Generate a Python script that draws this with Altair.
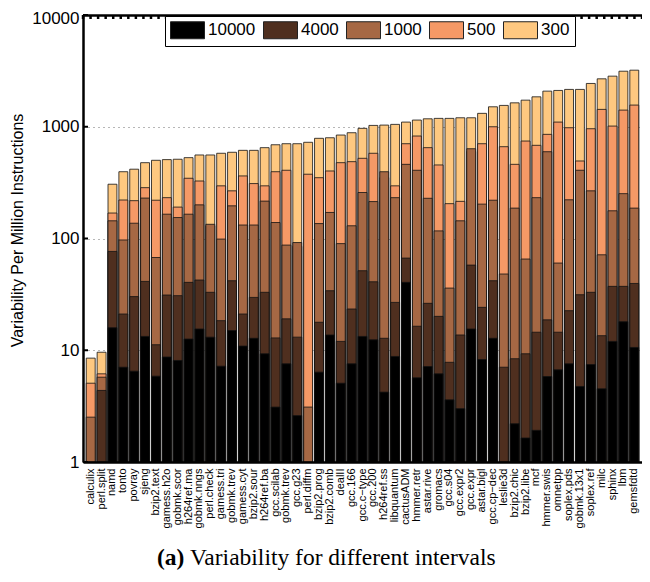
import json
import altair as alt
import pandas as pd

names = ["calculix", "perl.split", "namd", "tonto", "povray", "sjeng", "bzip2.text",
         "gamess.h2o", "gobmk.scor", "h264ref.ma", "gobmk.nngs", "perl.check",
         "gamess.tri", "gobmk.trev", "gamess.cyt", "bzip2.sour", "h264ref.ba",
         "gcc.scilab", "gobmk.trev", "gcc.g23", "perl.diffm", "bzip2.prog",
         "bzip2.comb", "dealII", "gcc.166", "gcc.c\u2212type", "gcc.200", "h264ref.ss",
         "libquantum", "cactusADM", "hmmer.retr", "astar.rive", "gromacs", "gcc.s04",
         "gcc.expr2", "gcc.expr", "astar.bigl", "gcc.cp\u2212dec", "leslie3d",
         "bzip2.chic", "bzip2.libe", "mcf", "hmmer.swis", "omnetpp", "soplex.pds",
         "gobmk.13x1", "soplex.ref", "milc", "sphinx", "lbm", "gemsfdtd"]

v300 = [8.5, 9.6, 306, 396, 417, 477, 501, 508, 512, 529, 559, 559, 579, 591, 615, 615, 650,
        690, 705, 705, 726, 788, 797, 843, 884, 968, 1028, 1035, 1050, 1101, 1148, 1178,
        1188, 1188, 1203, 1203, 1318, 1509, 1552, 1637, 1730, 1853, 2083, 2113, 2158,
        2158, 2440, 2685, 2837, 3140, 3208]
v500 = [5.07, 6.15, 169, 221, 218, 285, 220, 232, 191, 346, 327, 130, 296, 267, 363, 310, 296,
        396, 408, 85, 376, 350, 402, 477, 487, 522, 579, 350, 296, 705, 826, 650,
        455, 205, 215, 600, 705, 1000, 663, 461, 745, 682, 855, 1101, 980,
        494, 960, 1430, 1014, 1409, 1563]
v1000 = [2.52, 5.74, 144, 97, 137, 230, 67.6, 165, 154, 165, 200, 134, 98.8, 196, 132, 132, 216,
         139, 87.3, 92, 3.1, 136, 171, 90, 130, 258, 214, 396, 232, 461, 408, 229,
         117, 36, 144, 636, 203, 220, 48.1, 187, 65.5, 232, 598, 60.3, 222,
         408, 267, 71.5, 177, 252, 187]
v4000 = [None, 4.37, 76.6, 21.1, 30.2, 41.3, 11.2, 31.2, 30.8, 40.5, 42.5, 33, 18.4, 41.9, 21.1, 29.7, 33,
         12.9, 19.1, 13.1, None, 17.8, 34.1, 12, 23.4, 51.5, 41, 12.8, 26.8, 66.8, 16.4, 26.3,
         20.1, 7.8, 13.7, 57.8, 24.2, 41.9, 7.05, 8.4, 9.3, 14.5, 18.7, 14.5, 22.6,
         31.4, 33, 13.5, 37.3, 37.3, 39.6]
v10000 = [None, None, 15.9, 7.05, 6.5, 13.3, 5.86, 8.7, 8.1, 12.6, 15.5, 13.1, 7.2, 15, 10.9, 12.8, 9.3,
          3.1, 7.56, 2.6, None, 6.37, 13.7, 5.07, 7.56, 13.3, 12.4, 4.22, 8.8, 40.5, 5.67, 7.15,
          6.15, 3.6, 3.0, 15.5, 8.26, 12.8, None, 2.2, 1.64, 1.92, 5.82, 6.68, 7.56,
          4.74, 7.45, 4.52, 12, 18, 10.6]

intervals = ["300", "500", "1000", "4000", "10000"]
legend_order = ["10000", "4000", "1000", "500", "300"]
colors = ["#000000", "#4F2F1F", "#A66844", "#F59966", "#FEC880"]
decades = [1, 10, 100, 1000, 10000]
top_ticks = list(range(0, 75))
caption_a = "(a)"
caption_b = "Variability for different intervals"

rows = []
for iv, series in zip(intervals, [v300, v500, v1000, v4000, v10000]):
    for i, v in enumerate(series):
        if v is not None:
            rows.append({"i": i, "value": v, "interval": iv, "z": int(iv)})
df = pd.DataFrame(rows)

label_expr = json.dumps(names, ensure_ascii=False) + "[datum.value]"

bars = alt.Chart(df).mark_bar(stroke="#111111", strokeWidth=0.8).encode(
    x=alt.X("i:O",
            scale=alt.Scale(paddingInner=0.18, paddingOuter=0.3),
            axis=alt.Axis(labelExpr=label_expr, labelAngle=270, labelFontSize=11,
                          labelFont="Liberation Sans", labelColor="black", labelPadding=6,
                          labelAlign="right", labelBaseline="middle",
                          ticks=False, domainColor="black", domainWidth=2.5,
                          title=None, zindex=1)),
    y=alt.Y("value:Q",
            scale=alt.Scale(type="log", domain=[1, 10000], nice=False),
            axis=alt.Axis(values=decades, format="d", labelFontSize=17,
                          labelFont="Liberation Sans", labelColor="black", labelPadding=4,
                          labelOffset={"condition": {"test": "datum.value >= 10000", "value": 3},
                                       "value": 0},
                          ticks=False, domainColor="black", domainWidth=2.5,
                          grid=True, gridColor="#6e6e6e", gridDash=[1, 4], gridWidth=1,
                          title="Variability Per Million Instructions",
                          titleFont="Liberation Sans", titleFontSize=16,
                          titleFontWeight="normal", titleColor="black", titlePadding=6,
                          titleY=215)),
    y2=alt.datum(1),
    color=alt.Color("interval:N",
                    scale=alt.Scale(domain=legend_order, range=colors),
                    legend=alt.Legend(orient="none", legendX=82, legendY=1,
                                      direction="horizontal", columns=5, title=None,
                                      symbolType="M-1,-1H3V1H-1Z", symbolSize=289,
                                      symbolStrokeColor="#222222", symbolStrokeWidth=1,
                                      symbolOpacity=1,
                                      labelFontSize=17, labelFont="Liberation Sans",
                                      labelColor="black", labelOffset=20, columnPadding=5,
                                      padding=5, fillColor="white", strokeColor="black")),
    order=alt.Order("z:Q", sort="ascending"),
)

ytick = alt.Chart(pd.DataFrame({"value": decades})).mark_rule(
    color="black", strokeWidth=2).encode(
    y=alt.Y("value:Q"), x=alt.value(0), x2=alt.value(5))

toptick = alt.Chart(pd.DataFrame({"t": top_ticks})).mark_rule(
    color="black", strokeWidth=2.5).encode(
    x=alt.X("t:Q", scale=alt.Scale(domain=[0, 74], nice=False, zero=False),
            axis=alt.Axis(orient="top", labels=False, ticks=False, grid=False,
                          domainColor="black", domainWidth=2.5, title=None)),
    y=alt.value(0), y2=alt.value(4))

cap_a = alt.Chart(pd.DataFrame({"c": [caption_a]})).mark_text(
    font="Liberation Serif", fontSize=23.5, fontWeight="bold", align="left",
    baseline="alphabetic", color="black").encode(
    text="c:N", x=alt.value(74), y=alt.value(550))

cap_b = alt.Chart(pd.DataFrame({"c": [caption_b]})).mark_text(
    font="Liberation Serif", fontSize=23.5, align="left",
    baseline="alphabetic", color="black").encode(
    text="c:N", x=alt.value(107), y=alt.value(550))

chart = alt.layer(bars, ytick, toptick, cap_a, cap_b).resolve_scale(
    x="independent"
).properties(
    width=559, height=447,
    autosize=alt.AutoSizeParams(type="none"),
    padding={"left": 75, "top": 7, "right": 0, "bottom": 110},
    background="white",
).configure_view(stroke=None)

chart.save("out.html", embed_options={"renderer": "svg", "actions": False})
